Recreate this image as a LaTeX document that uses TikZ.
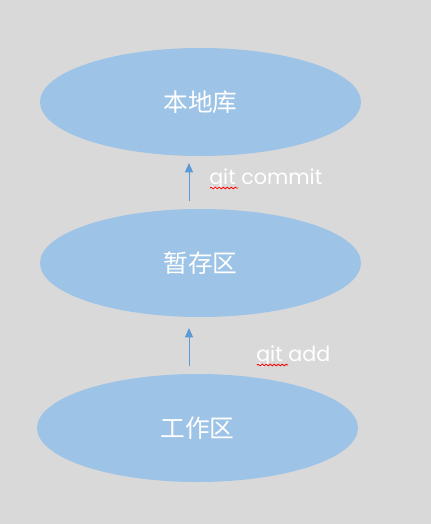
\documentclass[tikz,border=0pt]{standalone}
\usepackage{fontspec}
\setmainfont{Poppins}
\newfontfamily\cjk{Noto Sans CJK SC}
\usetikzlibrary{positioning,arrows.meta,decorations.pathmorphing,shapes.geometric}
\definecolor{bgray}{HTML}{D9D9D9}
\definecolor{ellblue}{HTML}{9DC3E6}
\definecolor{arrblue}{HTML}{5B9BD5}

\begin{document}
\begin{tikzpicture}[x=0.75pt,y=-0.75pt,
  area/.style={ellipse, fill=ellblue, draw=none, minimum width=240.75pt, minimum height=81pt, inner sep=0pt, text=white, font=\cjk\fontsize{18.5}{22}\selectfont},
  cmd/.style={text=white, font=\fontsize{15.5}{18}\selectfont, anchor=west, inner sep=0pt},
  uparrow/.style={draw=arrblue, line width=0.75pt, -{Triangle[width=6pt,length=7pt]}},
  squiggle/.style={draw=red, line width=0.6pt, decorate, decoration={snake, amplitude=0.6pt, segment length=3pt}}]
\fill[bgray] (0,0) rectangle (431,524);
\useasboundingbox (0,0) rectangle (431,524);

\node[area] at (200.5,102) (repo) {本地库};
\node[area] at (200.5,263) (stage) {暂存区};
\node[area] at (197.5,428) (work) {工作区};

% arrows between the areas
\coordinate (c1) at (189,201);
\coordinate (c2) at (189,163);
\coordinate (a1) at (189,366);
\coordinate (a2) at (189,328);
\draw[uparrow] (c1) -- (c2);
\draw[uparrow] (a1) -- (a2);

\node[cmd] at (209,179.5) (commit) {git commit};
\node[cmd] at (256,356) (add) {git add};

\draw[squiggle] (210,188) -- (238,188);
\draw[squiggle] (257,365) -- (288,365);

\end{tikzpicture}
\end{document}
